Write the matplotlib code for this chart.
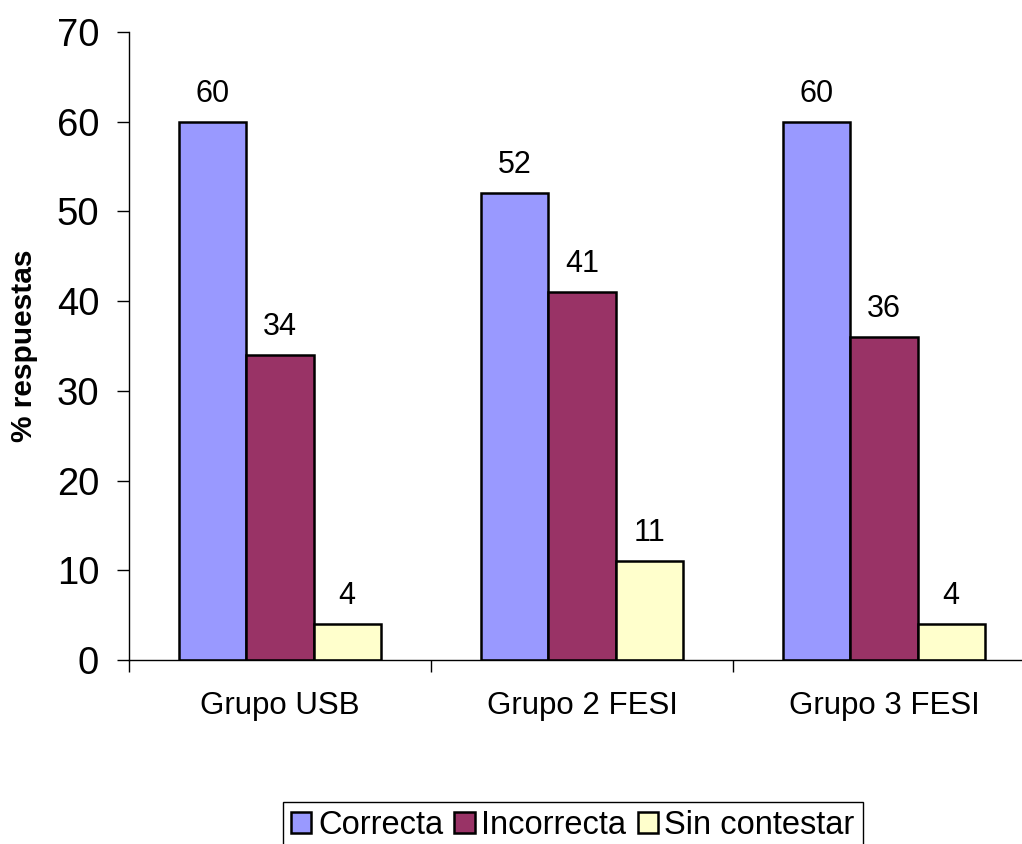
import numpy as np
import matplotlib
matplotlib.use("Agg")
import matplotlib.pyplot as plt

plt.rcParams["font.family"] = ["Liberation Sans", "DejaVu Sans"]

# data
groups = ["Grupo USB", "Grupo 2 FESI", "Grupo 3 FESI"]
series_names = ["Correcta", "Incorrecta", "Sin contestar"]
correcta = [60, 52, 60]
incorrecta = [34, 41, 36]
sin_contestar = [4, 11, 4]
colors = ["#9999FF", "#993366", "#FFFFCC"]

fig = plt.figure(figsize=(10.22, 8.44), dpi=100)
ax = fig.add_axes([129 / 1022, 1 - 660 / 844, (1035 - 129) / 1022, (660 - 32) / 844])

x = np.arange(len(groups))
width = 0.222
values = [correcta, incorrecta, sin_contestar]

for i, (name, vals, col) in enumerate(zip(series_names, values, colors)):
    pos = x + (i - 1) * width
    bars = ax.bar(pos, vals, width, color=col, edgecolor="black", linewidth=1.8, label=name)
    for b, v in zip(bars, vals):
        ax.annotate(str(v), (b.get_x() + b.get_width() / 2, v), xytext=(0, 14.5),
                    textcoords="offset points", ha="center", va="baseline", fontsize=22)

ax.set_xlim(-0.5, len(groups) - 0.5)
ax.set_ylim(0, 70)
ax.set_yticks(range(0, 71, 10))
ax.tick_params(axis="y", labelsize=27.5, length=8.5, pad=13, width=1)

# category boundaries get the tick marks, labels sit in the middle
ax.set_xticks(np.arange(-0.5, len(groups), 1.0))
ax.set_xticklabels([])
ax.set_xticks(x, minor=True)
ax.set_xticklabels(groups, minor=True, fontsize=22.5)
ax.tick_params(axis="x", which="major", length=8.5, width=1)
ax.tick_params(axis="x", which="minor", length=0, pad=22)

for s in ["top", "right"]:
    ax.spines[s].set_visible(False)
ax.spines["left"].set_linewidth(1)
ax.spines["bottom"].set_linewidth(1)

ax.set_ylabel("% respuestas", fontsize=21.5, fontweight="bold")
ax.yaxis.set_label_coords(-0.1, 0.5)

leg = fig.legend(loc="upper left", bbox_to_anchor=(283 / 1022, 1 - 802 / 844), ncol=3,
                 fontsize=23.5, frameon=True, fancybox=False, framealpha=1,
                 edgecolor="black", borderaxespad=0, handlelength=0.62, handleheight=0.62,
                 handletextpad=0.2, columnspacing=0.35, borderpad=0.25)
leg.get_frame().set_linewidth(1)

fig.savefig("out.png", dpi=100)
